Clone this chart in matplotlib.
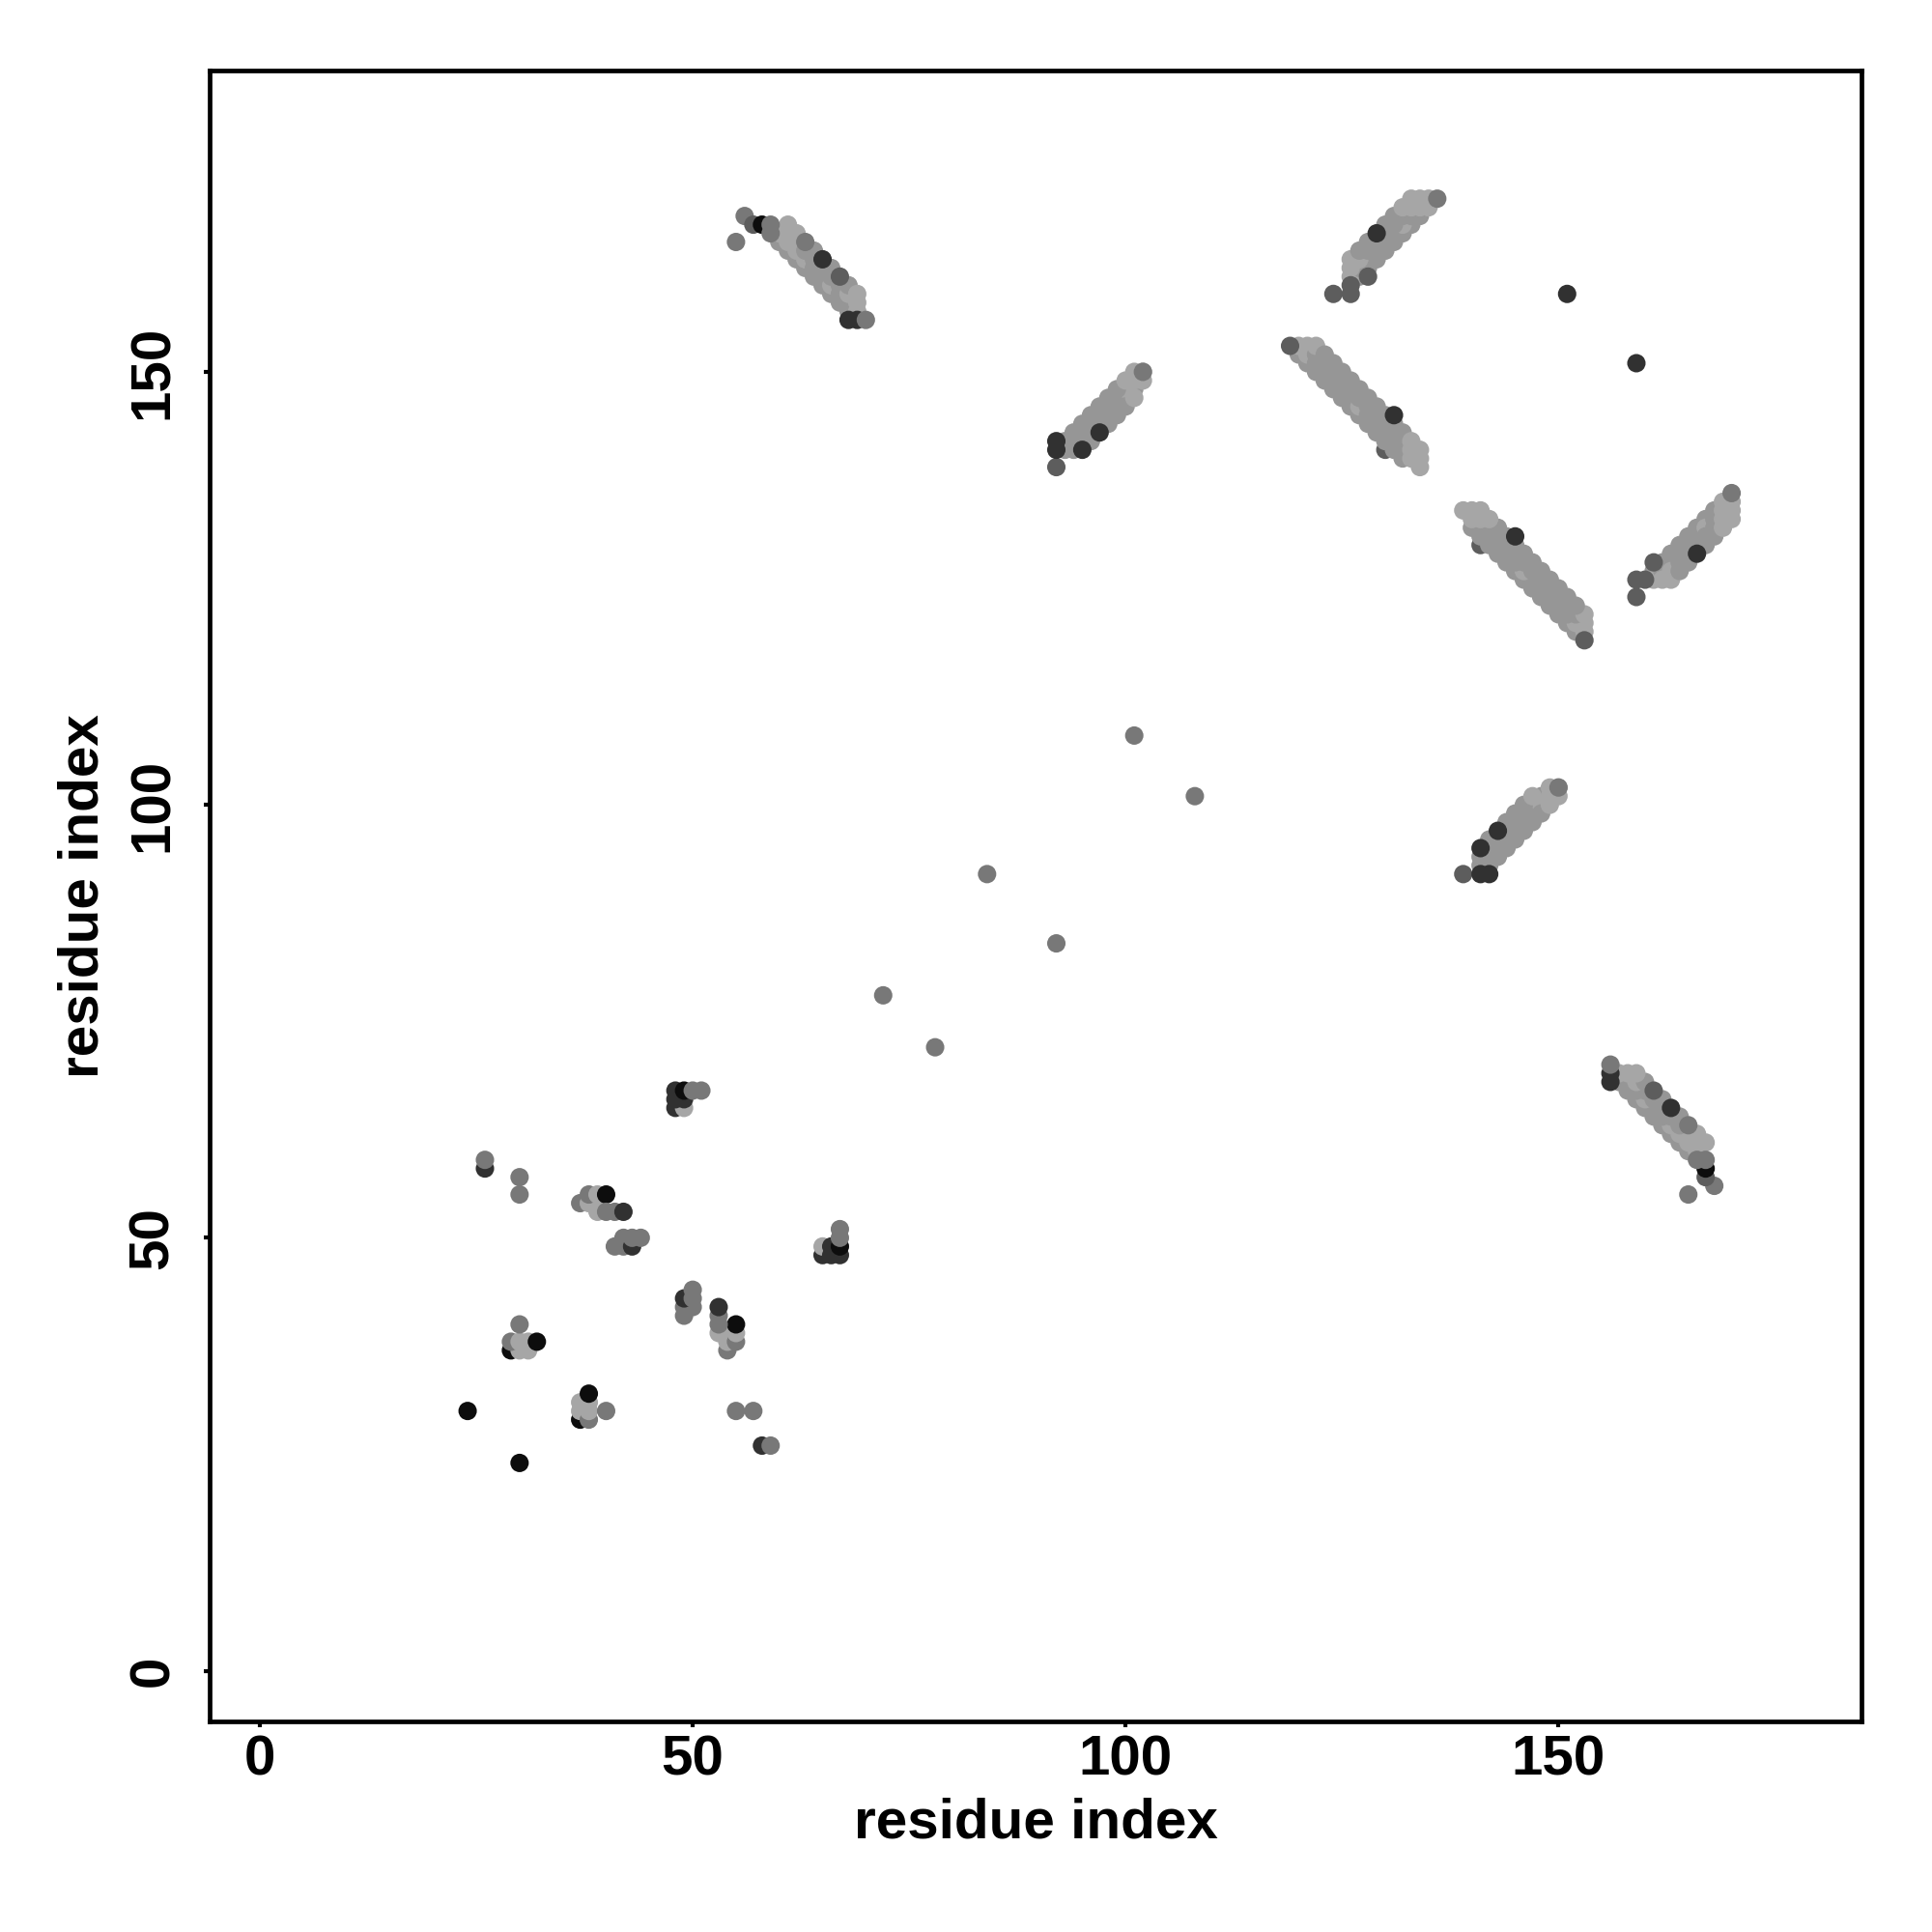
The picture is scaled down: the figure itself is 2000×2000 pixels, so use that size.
import matplotlib
matplotlib.use('Agg')
import matplotlib.pyplot as plt

plt.rcParams['font.family'] = ['Liberation Sans', 'DejaVu Sans']
plt.rcParams['font.weight'] = 'bold'

# grey levels used for the contact scores
shade_colors = {
    'k': '#0d0d0d',
    'd': '#313131',
    'g2': '#5d5d5d',
    'g': '#787878',
    'm': '#969696',
    'l': '#a6a6a6',
}

# contacts (i, j, shade) with i < j, the map is drawn symmetric
scattered = [
    (24, 30, 'k'),
    (26, 58, 'd'), (26, 59, 'g'),
    (30, 55, 'g'), (30, 57, 'g'),
    (29, 37, 'k'), (30, 37, 'l'), (31, 37, 'l'), (29, 38, 'g'), (30, 38, 'l'),
    (31, 38, 'l'), (32, 38, 'k'), (30, 40, 'g'),
    (37, 54, 'g'), (38, 54, 'l'), (39, 54, 'l'), (38, 55, 'g'), (39, 55, 'l'),
    (40, 55, 'k'), (39, 53, 'l'), (40, 53, 'g'), (41, 53, 'g'), (42, 53, 'd'),
    (41, 49, 'g'), (42, 49, 'g'), (42, 50, 'g'), (43, 49, 'd'), (43, 50, 'g'),
    (44, 50, 'g'),
    (48, 65, 'd'), (49, 65, 'l'), (48, 66, 'd'), (49, 66, 'd'), (48, 67, 'd'),
    (49, 67, 'k'), (50, 67, 'g'), (51, 67, 'g'),
    (72, 78, 'g'), (84, 92, 'g'), (101, 108, 'g'), (151, 159, 'd'),
]

# antiparallel strand pair 56-70 / 156-168
sheet_a = [
    (60, 165, 'm'), (61, 164, 'm'), (62, 163, 'm'), (63, 162, 'm'), (64, 161, 'm'),
    (65, 160, 'm'), (66, 159, 'm'), (67, 158, 'm'), (68, 157, 'm'),
    (60, 166, 'l'), (61, 165, 'l'), (62, 164, 'l'), (63, 163, 'l'), (64, 162, 'm'),
    (65, 161, 'm'), (66, 160, 'l'), (67, 159, 'm'), (68, 158, 'm'), (69, 157, 'l'),
    (61, 166, 'l'), (62, 165, 'l'), (63, 164, 'm'), (64, 163, 'm'), (65, 162, 'm'),
    (66, 161, 'm'), (67, 160, 'm'), (68, 159, 'l'), (69, 158, 'l'),
    (61, 167, 'l'), (62, 166, 'l'), (64, 164, 'm'), (66, 162, 'm'), (68, 160, 'm'),
    (69, 159, 'l'),
    (55, 165, 'g'), (56, 168, 'g'), (57, 167, 'g2'), (58, 167, 'k'), (59, 167, 'g'),
    (59, 166, 'g'), (63, 165, 'g'), (65, 163, 'd'), (67, 161, 'g2'),
    (68, 156, 'd'), (69, 156, 'd'), (70, 156, 'g'),
]

# parallel strand pair 124-136 / 159-170
sheet_b = [
    (127, 161, 'm'), (128, 162, 'm'), (129, 163, 'm'), (130, 164, 'm'), (131, 165, 'm'),
    (132, 166, 'm'), (133, 167, 'm'), (134, 168, 'm'), (135, 169, 'l'),
    (126, 161, 'l'), (127, 162, 'm'), (128, 163, 'm'), (129, 164, 'm'), (130, 165, 'm'),
    (131, 166, 'm'), (132, 167, 'l'), (133, 168, 'm'), (134, 169, 'l'), (135, 170, 'l'),
    (126, 162, 'l'), (127, 163, 'l'), (128, 164, 'm'), (129, 165, 'm'), (130, 166, 'm'),
    (131, 167, 'm'), (132, 168, 'm'), (133, 169, 'l'), (134, 170, 'l'),
    (126, 163, 'l'), (127, 164, 'm'), (128, 165, 'm'), (130, 167, 'm'), (131, 168, 'm'),
    (132, 169, 'l'), (133, 170, 'l'),
    (124, 159, 'g2'), (126, 159, 'g2'), (126, 160, 'g2'), (128, 161, 'g2'),
    (129, 166, 'd'), (136, 170, 'g'),
]

# antiparallel strand pair 119-134 / 139-153
sheet_c = [
    (130, 141, 'g2'),
    (120, 152, 'm'), (121, 151, 'm'), (122, 150, 'm'), (123, 149, 'm'), (124, 148, 'm'),
    (125, 147, 'm'), (126, 146, 'm'), (127, 145, 'm'), (128, 144, 'm'), (129, 143, 'm'),
    (130, 142, 'm'), (131, 141, 'm'), (132, 140, 'm'),
    (120, 153, 'l'), (121, 152, 'l'), (122, 151, 'm'), (123, 150, 'm'), (124, 149, 'm'),
    (125, 148, 'm'), (126, 147, 'm'), (127, 146, 'l'), (128, 145, 'm'), (129, 144, 'm'),
    (130, 143, 'm'), (131, 142, 'm'), (132, 141, 'm'), (133, 140, 'l'), (134, 139, 'l'),
    (121, 153, 'l'), (122, 152, 'm'), (123, 151, 'm'), (124, 150, 'm'), (125, 149, 'm'),
    (126, 148, 'm'), (127, 147, 'm'), (128, 146, 'm'), (129, 145, 'm'), (130, 144, 'm'),
    (131, 143, 'm'), (132, 142, 'm'), (133, 141, 'l'), (134, 140, 'l'),
    (122, 153, 'l'), (123, 152, 'm'), (124, 151, 'm'), (125, 150, 'm'), (126, 149, 'm'),
    (127, 148, 'm'), (128, 147, 'm'), (129, 146, 'm'), (130, 145, 'm'), (131, 144, 'm'),
    (132, 143, 'm'), (133, 142, 'l'), (134, 141, 'l'),
    (119, 153, 'g2'), (131, 145, 'd'),
]

# parallel strand pair 92-102 / 139-150
sheet_d = [
    (94, 141, 'm'), (95, 142, 'm'), (96, 143, 'm'), (97, 144, 'm'), (98, 145, 'm'),
    (99, 146, 'm'), (100, 147, 'm'), (101, 148, 'm'), (102, 149, 'l'),
    (93, 141, 'm'), (94, 142, 'm'), (95, 143, 'm'), (96, 144, 'm'), (97, 145, 'm'),
    (98, 146, 'm'), (99, 147, 'm'), (100, 148, 'l'), (101, 149, 'l'), (102, 150, 'l'),
    (93, 142, 'm'), (94, 143, 'm'), (95, 144, 'm'), (96, 145, 'm'), (97, 146, 'm'),
    (98, 147, 'm'), (99, 148, 'm'), (100, 149, 'l'), (101, 150, 'l'),
    (96, 142, 'm'), (98, 144, 'm'), (99, 145, 'm'), (100, 146, 'm'), (101, 147, 'l'),
    (92, 139, 'g2'), (92, 141, 'd'), (92, 142, 'd'), (95, 141, 'd'), (97, 143, 'd'),
    (102, 150, 'g'),
]

tick_values = [0, 50, 100, 150]


def collect(contacts):
    xs, ys, cs = [], [], []
    for i, j, s in contacts:
        xs += [i, j]
        ys += [j, i]
        cs += [shade_colors[s], shade_colors[s]]
    return xs, ys, cs


fig = plt.figure(figsize=(10, 10), dpi=200)
ax = fig.add_axes([0.1085, 0.109, 0.855, 0.8545])

for group in [scattered, sheet_a, sheet_b, sheet_c, sheet_d]:
    xs, ys, cs = collect(group)
    ax.scatter(xs, ys, s=47, c=cs, linewidths=0, zorder=3)

ax.set_xlim(-5.8, 185)
ax.set_ylim(-5.85, 184.8)
ax.set_xticks(tick_values)
ax.set_yticks(tick_values)
ax.set_xticklabels([str(v) for v in tick_values], fontsize=21, fontweight='bold')
ax.set_yticklabels([str(v) for v in tick_values], fontsize=21, fontweight='bold',
                   rotation=90, va='center')
ax.tick_params(axis='both', direction='out', length=2.2, width=1.5)
ax.tick_params(axis='x', pad=2.5)
ax.tick_params(axis='y', pad=9)

for sp in ax.spines.values():
    sp.set_linewidth(1.7)

ax.set_xlabel('residue index', fontsize=21, fontweight='bold', labelpad=4)
ax.set_ylabel('residue index', fontsize=21, fontweight='bold', labelpad=6.5)

fig.savefig('out.png', dpi=200)
